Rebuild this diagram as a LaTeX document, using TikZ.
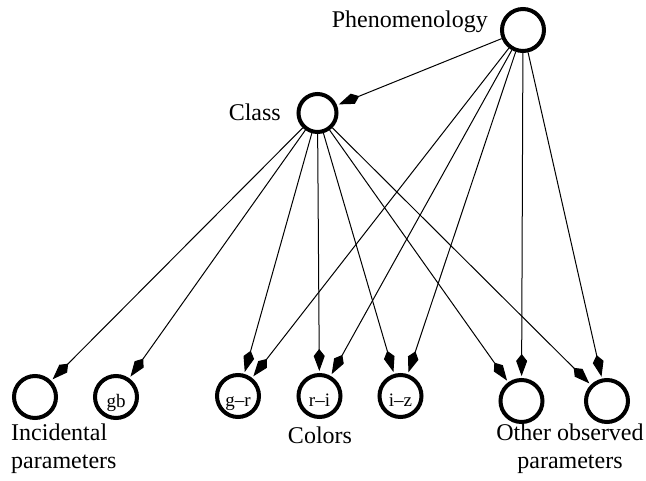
\documentclass[tikz,border=0pt]{standalone}
\usepackage{fontspec}
\setmainfont{Liberation Serif}
\usetikzlibrary{arrows.meta}
\begin{document}
\begin{tikzpicture}[x=1pt,y=-1pt,
  vnode/.style={circle,draw,line width=4pt,minimum size=42pt,inner sep=0pt},
  inlbl/.style={font=\fontsize{19}{20}\selectfont,inner sep=0pt,text height=12pt,text depth=4pt,yshift=-6pt},
  lbl/.style={font=\fontsize{24}{28}\selectfont,inner sep=0pt},
  edge/.style={line width=1pt,-{Kite[length=22pt,width=11pt,inset=7pt]},shorten >=2pt}]
\useasboundingbox (0,0) rectangle (646,480);
\node[vnode] (phen) at (523,30) {};
\node[vnode,minimum size=38pt] (class) at (317.5,113) {};
\node[vnode] (inc) at (35,397) {};
\node[vnode,label={[inlbl]center:gb}] (gb) at (116,397) {};
\node[vnode,label={[inlbl]center:g–r}] (gr) at (238,396) {};
\node[vnode,label={[inlbl]center:r–i}] (ri) at (319.5,396) {};
\node[vnode,label={[inlbl]center:i–z}] (iz) at (400.5,396) {};
\node[vnode] (o1) at (521.5,401) {};
\node[vnode] (o2) at (607,401) {};
\node[lbl,anchor=east] (lphen) at (488,22) {Phenomenology};
\node[lbl,anchor=east] (lclass) at (281,112) {Class};
\node[lbl,anchor=north west,align=left] (linc) at (11,424) {Incidental\\parameters};
\node[lbl,anchor=north] (lcol) at (320,427) {Colors};
\node[lbl,anchor=north,align=center] (loth) at (570,424) {Other observed\\parameters};
\foreach \t in {class,gr,ri,iz,o1,o2} \draw[edge] (phen) -- (\t);
\foreach \t in {inc,gb,gr,ri,iz,o1,o2} \draw[edge] (class) -- (\t);
\end{tikzpicture}
\end{document}
